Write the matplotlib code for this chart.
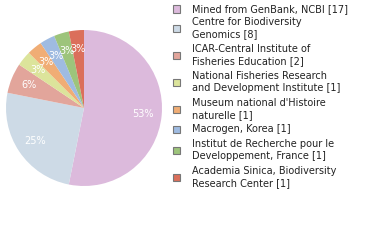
import matplotlib.pyplot as plt
from matplotlib.patches import Rectangle

labels = [
    "Mined from GenBank, NCBI [17]",
    "Centre for Biodiversity\nGenomics [8]",
    "ICAR-Central Institute of\nFisheries Education [2]",
    "National Fisheries Research\nand Development Institute [1]",
    "Museum national d'Histoire\nnaturelle [1]",
    "Macrogen, Korea [1]",
    "Institut de Recherche pour le\nDeveloppement, France [1]",
    "Academia Sinica, Biodiversity\nResearch Center [1]",
]
counts = [17, 8, 2, 1, 1, 1, 1, 1]
colors = ["#dcbadc", "#cddae6", "#e2a59b", "#dce49b", "#f0ad75",
          "#9fbbe1", "#9dc47b", "#db6f5b"]
legend_y = [9, 28, 55, 82, 109, 129, 150, 177]

fig = plt.figure(figsize=(3.8, 2.4), dpi=100)
ax = fig.add_axes([6 / 380, 54 / 240, 156 / 380, 156 / 240])
ax.pie(counts, colors=colors, startangle=90, counterclock=False,
       autopct=lambda p: f"{p:.0f}%", pctdistance=0.76,
       textprops=dict(color="white", fontsize=7))
ax.set_xlim(-1, 1)
ax.set_ylim(-1, 1)
ax.set_aspect("equal")

for lab, col, y in zip(labels, colors, legend_y):
    fig.patches.append(Rectangle((173 / 380, 1 - (y + 3.5) / 240), 7 / 380, 7 / 240,
                                 transform=fig.transFigure, facecolor=col,
                                 edgecolor="#777777", linewidth=0.8))
    fig.text(192 / 380, 1 - y / 240, lab, fontsize=7, va="center", ha="left",
             color="#222222", linespacing=1.2)

fig.savefig("out.png", dpi=100)
